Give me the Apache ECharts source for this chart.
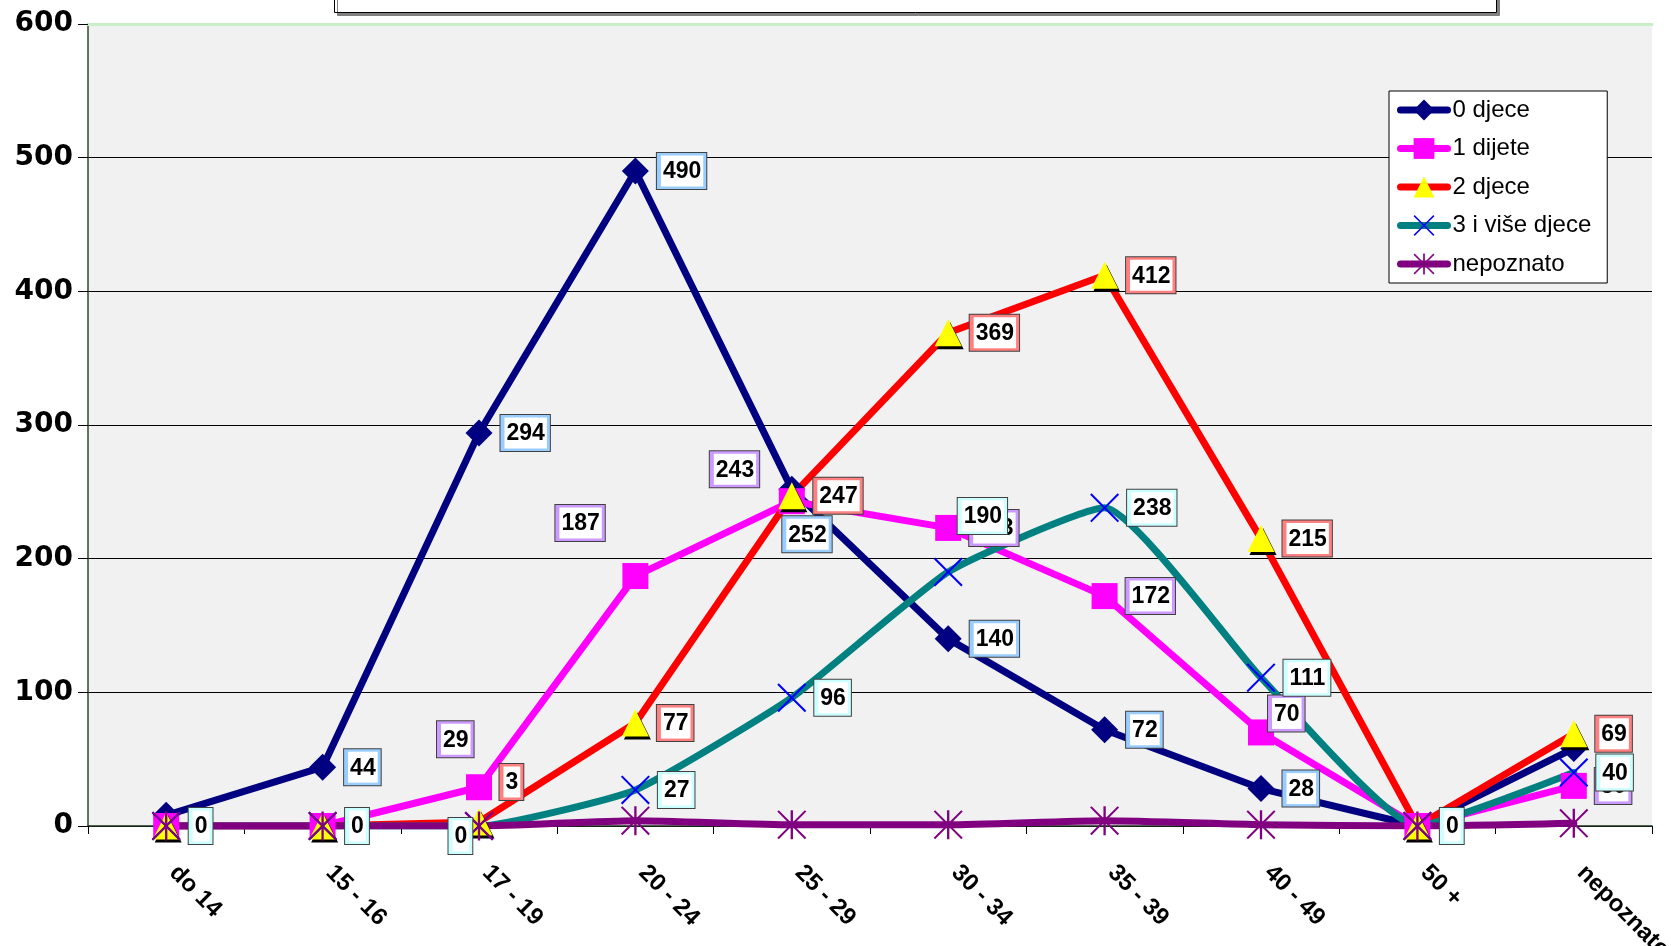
<!DOCTYPE html>
<html><head><meta charset="utf-8">
<script src="https://cdn.jsdelivr.net/npm/echarts@6/dist/echarts.min.js"></script>
<style>html,body{margin:0;padding:0;background:#fff}#c{width:1671px;height:946px}</style>
</head><body><div id="c"></div>
<script>
// ---- data ----
const categories = ['do 14', '15 - 16', '17 - 19', '20 - 24', '25 - 29', '30 - 34', '35 - 39', '40 - 49', '50 +', 'nepoznato'];
const seriesNames = ['0 djece', '1 dijete', '2 djece', '3 i više djece', 'nepoznato'];
const djece0 = [8, 44, 294, 490, 252, 140, 72, 28, 0, 58];
const dijete1 = [0, 0, 29, 187, 243, 223, 172, 70, 0, 30];
const djece2 = [0, 0, 3, 77, 247, 369, 412, 215, 0, 69];
const djece3plus = [0, 0, 0, 27, 96, 190, 238, 111, 0, 40];
const nepoznatoVals = [0, 0, 0, 4, 1, 1, 4, 1, 0, 2];
const yTicks = [0, 100, 200, 300, 400, 500, 600];

// ---- presentation ----
const allValues = [djece0, dijete1, djece2, djece3plus, nepoznatoVals];
const labelShow = [
  [false, true, true, true, true, true, true, true, false, false],
  [false, false, true, true, true, true, true, true, false, true],
  [false, false, true, true, true, true, true, true, false, true],
  [true, true, true, true, true, true, true, true, true, true],
  [false, false, false, false, false, false, false, false, false, false]
];
const labelOffsets = {
  '0-4': [-31, 45],
  '1-2': [-63, -48], '1-3': [-101, -53], '1-4': [-103, -32], '1-7': [-14, -19],
  '2-2': [-1, -40],
  '3-2': [-53, 10], '3-5': [-13, -56]
};
const labelBg = ['#99CCFF', '#CC99FF', '#FF8080', '#CCFFFF', '#fff'];
const lineColors = ['#000080', '#FF00FF', '#FF0000', '#008080', '#800080'];
const markerColors = ['#000080', '#FF00FF', '#FFFF00', '#0000FF', '#800080'];
const xPath = 'path://M0,1L1,0L10,9L19,0L20,1L11,10L20,19L19,20L10,11L1,20L0,19L9,10Z';
const starPath = 'path://M0,1L1,0L10,9L19,0L20,1L11,10L20,19L19,20L10,11L1,20L0,19L9,10Z M9.2,0L10.8,0L10.8,20L9.2,20Z';
const symbols = ['diamond', 'rect', 'triangle', xPath, starPath];
const symbolSizes = [27, 26, 27, 29, 29];
const smooth = [false, false, false, 0.15, 0.2];

const series = allValues.map((vals, s) => ({
  name: seriesNames[s],
  type: 'line',
  smooth: smooth[s],
  symbol: symbols[s],
  symbolSize: symbolSizes[s],
  showAllSymbol: true,
  lineStyle: { color: lineColors[s], width: 7, cap: 'round', join: 'round' },
  itemStyle: s === 2
    ? { color: markerColors[s], shadowColor: '#000', shadowOffsetX: 2, shadowOffsetY: 3, shadowBlur: 0 }
    : { color: markerColors[s] },
  label: {
    show: false,
    position: 'right',
    distance: 8,
    formatter: '{v|{c}}',
    backgroundColor: labelBg[s],
    borderColor: '#404040',
    borderWidth: 1,
    padding: [5, 3, 5, 4],
    rich: {
      v: { backgroundColor: '#fff', padding: [5, 2, 3, 2], fontSize: 23, fontWeight: 'bold',
           fontFamily: 'Liberation Sans, Arial', color: '#000', lineHeight: 26 }
    }
  },
  emphasis: { disabled: true },
  data: vals.map((v, i) => {
    const o = labelOffsets[s + '-' + i];
    const lab = { show: labelShow[s][i] };
    if (o) lab.offset = o;
    return { value: v, label: lab };
  })
}));

const chart = echarts.init(document.getElementById('c'), null, { renderer: 'canvas' });
chart.setOption({
  animation: false,
  backgroundColor: '#ffffff',
  textStyle: { fontFamily: 'Liberation Sans, Arial' },
  graphic: [{
    type: 'rect', left: 334, top: -30,
    shape: { width: 1162, height: 42 },
    style: { fill: '#fff', stroke: '#000', lineWidth: 1, shadowColor: '#808080', shadowOffsetX: 3, shadowOffsetY: 3, shadowBlur: 0 },
    z: 10
  }],
  grid: { left: 88, right: 19, top: 24, bottom: 120, show: true, backgroundColor: '#f1f1f1', borderWidth: 0,
          containLabel: false, outerBoundsMode: 'none' },
  legend: {
    orient: 'vertical', left: 1389, top: 91,
    padding: [6, 16, 6, 8],
    itemWidth: 47, itemHeight: 26, itemGap: 12.5,
    backgroundColor: '#fff', borderColor: '#000', borderWidth: 1,
    lineStyle: { width: 7, cap: 'round' },
    textStyle: { fontSize: 24, color: '#000', fontFamily: 'Liberation Sans, Arial', lineHeight: 26 },
    data: seriesNames
  },
  xAxis: [{
    type: 'category', data: categories, boundaryGap: true, position: 'bottom',
    axisLine: { lineStyle: { color: '#1c321c', width: 1.5 } },
    axisTick: { show: true, length: 8, lineStyle: { color: '#000' } },
    axisLabel: { rotate: -45, fontSize: 24, fontWeight: 'bold', color: '#000', margin: 36,
                 padding: [0, 0, 0, 10], fontFamily: 'Liberation Sans, Arial', hideOverlap: false },
    splitLine: { show: false }
  }, {
    type: 'category', data: categories, position: 'top',
    axisLine: { lineStyle: { color: '#c8f0c8', width: 3 } },
    axisTick: { show: false }, axisLabel: { show: false }
  }],
  yAxis: {
    type: 'value', min: yTicks[0], max: yTicks[yTicks.length - 1], interval: yTicks[1] - yTicks[0],
    axisLine: { show: true, lineStyle: { color: '#2e4a2e', width: 1.5 } },
    axisTick: { show: true, length: 10, lineStyle: { color: '#000' } },
    axisLabel: { fontSize: 28, fontWeight: 'bold', color: '#000', margin: 15, fontFamily: 'DejaVu Sans' },
    splitLine: { show: true, lineStyle: { color: '#000', width: 1 } }
  },
  series: series
});
</script>
</body></html>
